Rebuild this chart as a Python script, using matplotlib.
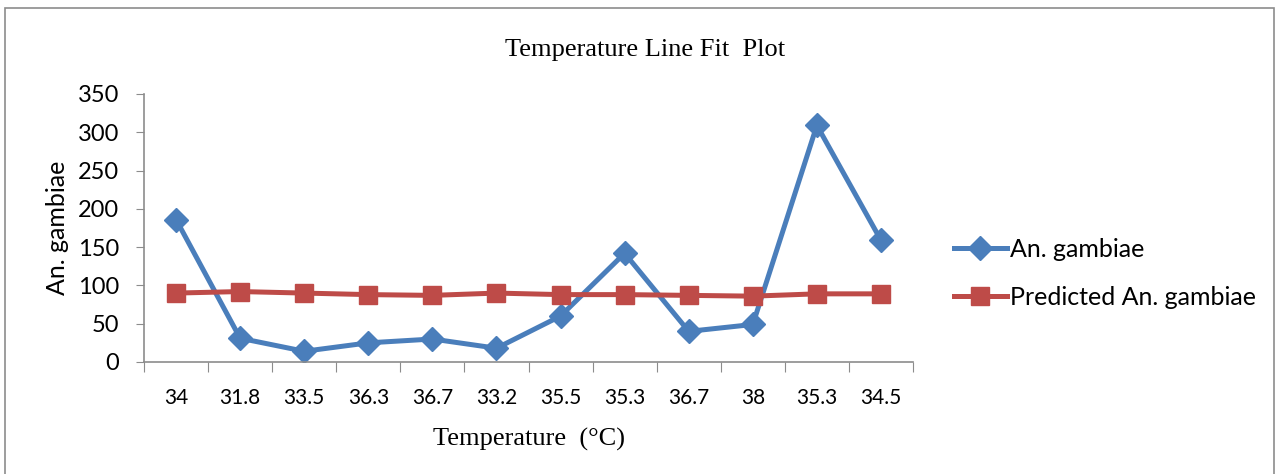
import numpy as np
import matplotlib.pyplot as plt
from matplotlib.patches import Rectangle

# --- Data ---
temps = ["34", "31.8", "33.5", "36.3", "36.7", "33.2", "35.5", "35.3", "36.7", "38", "35.3", "34.5"]
observed = [186, 31, 14, 25, 30, 18, 60, 142, 40, 49, 309, 159]
predicted = [90, 92, 90, 88, 87, 90, 88, 88, 87, 86, 89, 89]

blue = "#4A7EBB"
red = "#BE4B48"
axis_gray = "#8C8C8C"
tick_font = "Lato"

fig = plt.figure(figsize=(12.78, 4.74), dpi=100)
ax = fig.add_axes([0.1127, 0.2363, 0.6017, 0.5654])

x = np.arange(len(temps))
ax.plot(x, observed, color=blue, lw=3.6, marker="D", ms=12, label="An. gambiae")
ax.plot(x, predicted, color=red, lw=3.6, marker="s", ms=13, label="Predicted An. gambiae")

ax.set_xlim(-0.5, len(temps) - 0.5)
ax.set_ylim(0, 350)
ax.set_yticks(np.arange(0, 351, 50))

# category boundaries get the tick marks, labels sit at centres
ax.set_xticks(np.arange(-0.5, len(temps)), minor=False)
ax.set_xticklabels([])
ax.set_xticks(x, minor=True)
ax.set_xticklabels(temps, minor=True)
ax.tick_params(axis="x", which="major", length=7, color=axis_gray, direction="out")
ax.tick_params(axis="x", which="minor", length=0, pad=19, labelsize=15)
ax.tick_params(axis="y", length=6, color=axis_gray, labelsize=17, pad=12)
for lab in ax.get_xticklabels(minor=True) + ax.get_yticklabels():
    lab.set_fontfamily(tick_font)

for side in ["top", "right"]:
    ax.spines[side].set_visible(False)
for side in ["left", "bottom"]:
    ax.spines[side].set_color(axis_gray)
    ax.spines[side].set_linewidth(1.2)

ax.set_ylabel("An. gambiae", fontsize=18, fontfamily=tick_font, labelpad=6)
ax.set_xlabel("Temperature  (\u00b0C)", fontsize=19, fontfamily="Liberation Serif", labelpad=14)
fig.text(0.505, 0.895, "Temperature Line Fit  Plot", fontsize=19,
         fontfamily="Liberation Serif", ha="center", va="center")

fig.legend(loc="center left", bbox_to_anchor=(0.729, 0.424), frameon=False,
           prop={"family": tick_font, "size": 18}, handlelength=2.1,
           labelspacing=1.0, handletextpad=0.15)

# chart frame
fig.patches.append(Rectangle((0.004, -0.01), 0.993, 0.993, transform=fig.transFigure,
                             fill=False, edgecolor=axis_gray, lw=1.2))

fig.savefig("out.png", dpi=100)
